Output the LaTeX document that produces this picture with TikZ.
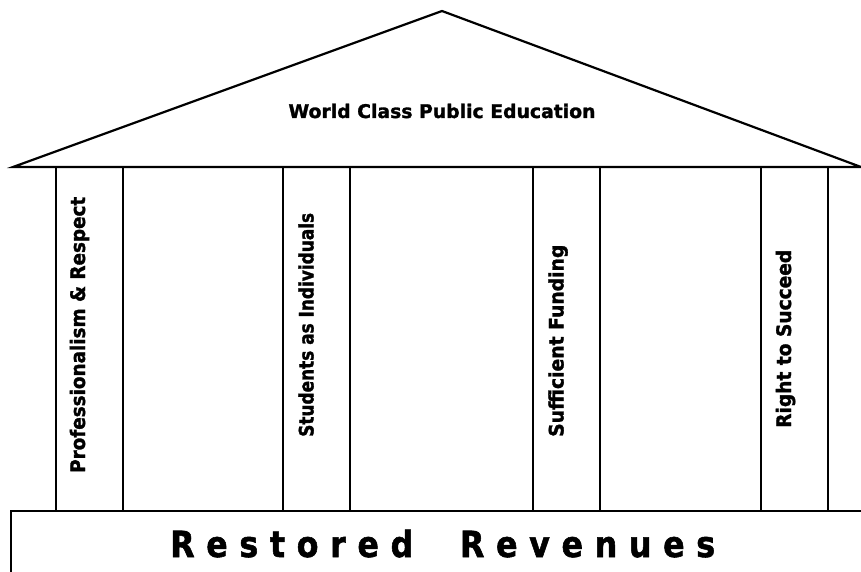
\documentclass[tikz,border=0pt]{standalone}
\usepackage{fontspec}
\setmainfont{DejaVu Sans}[BoldFeatures={FakeBold=1.5}]
\newcommand\squeeze[2]{{\addfontfeature{FakeStretch=#1}#2}}
\tikzset{
  edge/.style={draw=black, line width=2.2pt, line join=miter},
  pillartext/.style={rotate=90, anchor=base west, inner sep=0pt,
    font=\bfseries\fontsize{20}{24}\selectfont},
  titletext/.style={anchor=base, inner sep=0pt,
    font=\bfseries\fontsize{18.8}{22}\selectfont},
  basetext/.style={anchor=base west, inner sep=0pt,
    font=\bfseries\fontsize{36}{40}\selectfont}
}
\begin{document}
\begin{tikzpicture}[x=1pt,y=-1pt]
\useasboundingbox (0,0) rectangle (861,572);
% roof
\coordinate (roofL) at (13,167);
\coordinate (apex) at (442,11);
\coordinate (roofR) at (861,167);
\draw[edge] (roofL) -- (apex) -- (roofR) -- cycle;
% pillars
\draw[edge] (56,167) rectangle (123,511);
\draw[edge] (283,167) rectangle (350,511);
\draw[edge] (533,167) rectangle (600,511);
\draw[edge] (761,167) rectangle (828,511);
% base
\draw[edge] (11,580) -- (11,511) -- (870,511);
% texts
\node[titletext] (title) at (442,118) {World Class Public Education};
\node[pillartext] (p1) at (85,473) {\squeeze{0.918}{Professionalism \& Respect}};
\node[pillartext] (p2) at (313.5,437) {\squeeze{0.846}{Students as Individuals}};
\node[pillartext] (p3) at (563.5,437) {\squeeze{0.938}{Sufficient Funding}};
\node[pillartext] (p4) at (791,428) {\squeeze{0.930}{Right to Succeed}};
\node[basetext] (base) at (170,557) {\squeeze{0.88}{\makebox[545pt][l]{R\hfill e\hfill s\hfill t\hfill o\hfill r\hfill e\hfill d\hfill\hfill\hfill\hfill R\hfill e\hfill v\hfill e\hfill n\hfill u\hfill e\hfill s}}};
\end{tikzpicture}
\end{document}
